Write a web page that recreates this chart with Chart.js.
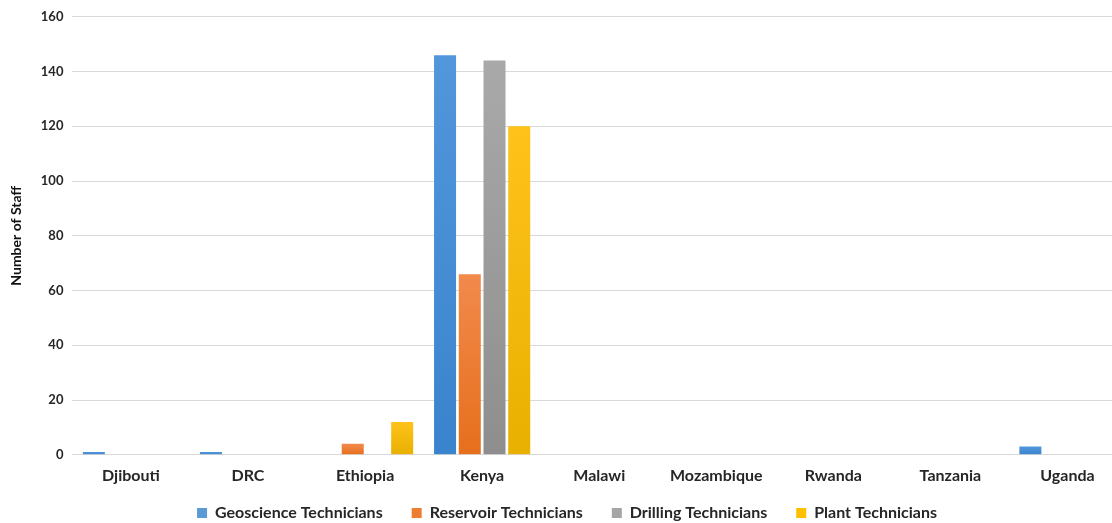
<!DOCTYPE html>
<html>
<head>
<meta charset="utf-8">
<script src="https://cdn.jsdelivr.net/npm/chart.js@4.4.0/dist/chart.umd.min.js"></script>
<style>
  html, body { margin: 0; padding: 0; background: #fff; overflow: hidden; }
  /* the original picture is cut on the right, so the chart is a bit wider than the window */
  #wrap { width: 1143px; height: 523px; position: relative; }
</style>
</head>
<body>
<div id="wrap"><canvas id="staffChart"></canvas></div>
<script>
const countries = ['Djibouti', 'DRC', 'Ethiopia', 'Kenya', 'Malawi', 'Mozambique', 'Rwanda', 'Tanzania', 'Uganda'];
const geoscience = [1, 1, 0, 146, 0, 0, 0, 0, 3];
const reservoir = [0, 0, 4, 66, 0, 0, 0, 0, 0];
const drilling = [0, 0, 0, 144, 0, 0, 0, 0, 0];
const plant = [0, 0, 12, 120, 0, 0, 0, 0, 0];
const yTicks = [0, 20, 40, 60, 80, 100, 120, 140, 160];

// vertical gradient for each bar, from its top to the zero line
function barFill(top, bottom) {
    return (ctx) => {
        const chart = ctx.chart;
        const y = chart.scales.y;
        if (!y || ctx.raw === undefined) return bottom;
        const y0 = y.getPixelForValue(0);
        const y1 = y.getPixelForValue(ctx.raw);
        if (y0 === y1) return bottom;
        const g = chart.ctx.createLinearGradient(0, y1, 0, y0);
        g.addColorStop(0, top);
        g.addColorStop(1, bottom);
        return g;
    };
}

function series(label, data, top, bottom, legendColor) {
    return {
        label: label,
        data: data,
        backgroundColor: barFill(top, bottom),
        borderWidth: 0,
        categoryPercentage: 0.845,
        barPercentage: 0.89,
        legendColor: legendColor
    };
}

const font = "Lato, 'Open Sans', sans-serif";

new Chart(document.getElementById('staffChart').getContext('2d'), {
    type: 'bar',
    data: {
        labels: countries,
        datasets: [
            series('Geoscience Technicians', geoscience, '#5296db', '#3a84cd', '#5b9bd5'),
            series('Reservoir Technicians', reservoir, '#f28a4c', '#e66f1c', '#ed7d31'),
            series('Drilling Technicians', drilling, '#a9a9a9', '#8e8e8e', '#a5a5a5'),
            series('Plant Technicians', plant, '#ffc21a', '#e8b000', '#ffc000')
        ]
    },
    options: {
        responsive: true,
        maintainAspectRatio: false,
        animation: false,
        layout: { padding: { top: 16, right: 17, left: 8, bottom: -8 } },
        scales: {
            x: {
                grid: { display: false, drawTicks: false },
                border: { color: '#d9d9d9', width: 1 },
                ticks: {
                    color: '#262626',
                    padding: 11,
                    font: { family: font, size: 16, weight: 'bold' }
                }
            },
            y: {
                min: 0,
                max: 160,
                afterBuildTicks: (axis) => { axis.ticks = yTicks.map(v => ({ value: v })); },
                grid: { color: '#d9d9d9', drawTicks: false },
                border: { display: false },
                ticks: {
                    color: '#262626',
                    padding: 9,
                    font: { family: font, size: 13, weight: 'bold' }
                },
                title: {
                    display: true,
                    text: 'Number of Staff',
                    color: '#111',
                    padding: { top: 0, bottom: 7 },
                    font: { family: font, size: 14, weight: 'bold' }
                }
            }
        },
        plugins: {
            legend: {
                position: 'bottom',
                labels: {
                    color: '#262626',
                    boxWidth: 10,
                    boxHeight: 10,
                    padding: 9,
                    font: { family: font, size: 16, weight: 'bold' },
                    // em + en space widens the gap between legend items
                    generateLabels: (chart) => chart.data.datasets.map((ds, i) => ({
                        text: i < chart.data.datasets.length - 1 ? ds.label + '\u2003\u2002' : ds.label,
                        fillStyle: ds.legendColor,
                        strokeStyle: ds.legendColor,
                        lineWidth: 0,
                        datasetIndex: i,
                        fontColor: '#262626'
                    }))
                }
            },
            tooltip: { enabled: false }
        }
    }
});
</script>
</body>
</html>
